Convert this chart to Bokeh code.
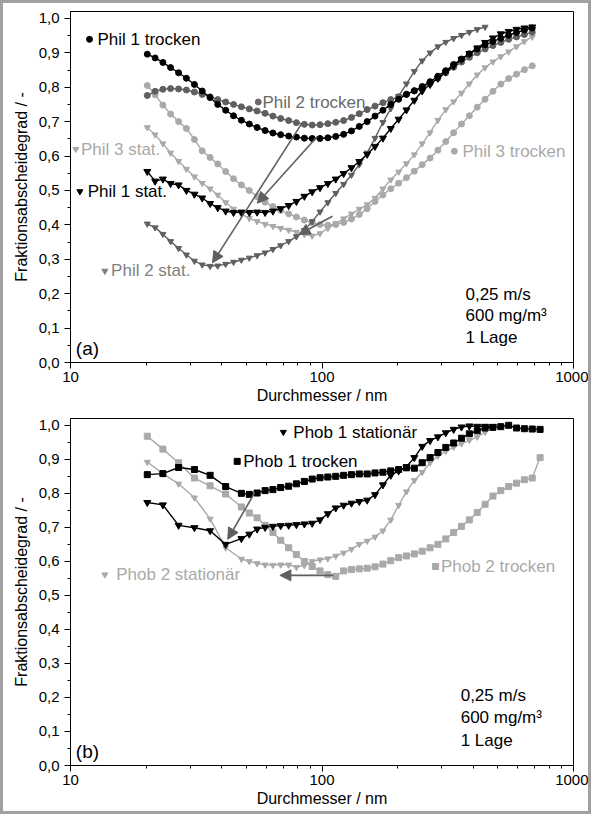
from bokeh.plotting import figure
from bokeh.layouts import column
from bokeh.models import FixedTicker, CustomJSTickFormatter, Arrow, NormalHead, ColumnDataSource
from bokeh.core.properties import value
from bokeh.embed import file_html
from bokeh.resources import INLINE

BLACK = "#000000"
DARK = "#5f5f5f"
LIGHT = "#a9a9a9"
FONT = "Liberation Sans"

# ---------------- data ----------------
x_ticks = [10, 100, 1000]
x_minor = [20, 30, 40, 50, 60, 70, 80, 90, 200, 300, 400, 500, 600, 700, 800, 900]
y_ticks = [0.0, 0.1, 0.2, 0.3, 0.4, 0.5, 0.6, 0.7, 0.8, 0.9, 1.0]
y_minor = [0.05, 0.15, 0.25, 0.35, 0.45, 0.55, 0.65, 0.75, 0.85, 0.95]

# particle diameters (nm), panel (a)
d_a = [20.2, 21.7, 23.3, 25.0, 26.9, 28.9, 31.1, 33.4, 35.9, 38.5,
       41.4, 44.5, 47.8, 51.4, 55.2, 59.4, 63.8, 68.5, 73.7, 79.1,
       85.1, 91.4, 98.2, 105.5, 113.4, 121.9, 131.0, 140.7, 151.2, 162.5,
       174.7, 187.7, 201.7, 216.7, 232.9, 250.3, 269.0, 289.0, 310.6, 333.8,
       358.7, 385.4, 414.2, 445.1, 478.3, 514.0, 552.3, 593.5, 637.8, 685.4]

phil1_trocken = [0.896, 0.885, 0.872, 0.857, 0.842, 0.826, 0.808, 0.789, 0.770, 0.750,
                 0.733, 0.717, 0.704, 0.693, 0.683, 0.674, 0.667, 0.662, 0.658, 0.655,
                 0.652, 0.651, 0.651, 0.653, 0.657, 0.663, 0.673, 0.686, 0.700, 0.716,
                 0.733, 0.750, 0.765, 0.779, 0.790, 0.802, 0.816, 0.832, 0.848, 0.866,
                 0.882, 0.897, 0.911, 0.923, 0.933, 0.942, 0.951, 0.959, 0.966, 0.972]
phil2_trocken = [0.776, 0.788, 0.794, 0.796, 0.795, 0.792, 0.786, 0.779, 0.772, 0.764,
                 0.757, 0.750, 0.743, 0.737, 0.731, 0.724, 0.716, 0.709, 0.703, 0.697,
                 0.692, 0.690, 0.691, 0.694, 0.698, 0.703, 0.712, 0.723, 0.735, 0.745,
                 0.755, 0.764, 0.772, 0.780, 0.789, 0.799, 0.812, 0.826, 0.842, 0.858,
                 0.873, 0.887, 0.900, 0.911, 0.921, 0.930, 0.939, 0.946, 0.953, 0.960]
phil3_trocken = [0.805, 0.778, 0.748, 0.722, 0.700, 0.680, 0.648, 0.615, 0.596, 0.577,
                 0.555, 0.534, 0.516, 0.500, 0.482, 0.466, 0.453, 0.442, 0.432, 0.423,
                 0.414, 0.406, 0.401, 0.399, 0.401, 0.407, 0.417, 0.430, 0.447, 0.468,
                 0.487, 0.505, 0.521, 0.537, 0.556, 0.575, 0.594, 0.617, 0.642, 0.668,
                 0.693, 0.717, 0.742, 0.765, 0.788, 0.809, 0.825, 0.838, 0.851, 0.862]
phil1_stat = [0.555, 0.527, 0.533, 0.520, 0.516, 0.500, 0.489, 0.478, 0.462, 0.450,
              0.440, 0.436, 0.437, 0.436, 0.437, 0.436, 0.440, 0.447, 0.456, 0.468,
              0.483, 0.496, 0.508, 0.520, 0.533, 0.549, 0.566, 0.584, 0.605, 0.628,
              0.652, 0.680, 0.707, 0.734, 0.762, 0.789, 0.808, 0.826, 0.844, 0.862,
              0.881, 0.898, 0.914, 0.930, 0.943, 0.955, 0.962, 0.968, 0.972, 0.975]
phil2_stat = [0.403, 0.392, 0.373, 0.352, 0.332, 0.313, 0.295, 0.284, 0.280, 0.281,
              0.286, 0.292, 0.298, 0.304, 0.311, 0.319, 0.329, 0.340, 0.352, 0.366,
              0.384, 0.410, 0.438, 0.465, 0.492, 0.518, 0.545, 0.575, 0.609, 0.652,
              0.698, 0.738, 0.774, 0.810, 0.846, 0.877, 0.900, 0.918, 0.931, 0.942,
              0.951, 0.960, 0.968, 0.975]
phil3_stat = [0.683, 0.662, 0.636, 0.609, 0.585, 0.562, 0.540, 0.521, 0.505, 0.487,
              0.465, 0.446, 0.431, 0.419, 0.410, 0.402, 0.396, 0.390, 0.385, 0.379,
              0.372, 0.368, 0.375, 0.390, 0.404, 0.418, 0.432, 0.446, 0.459, 0.478,
              0.505, 0.531, 0.554, 0.578, 0.604, 0.636, 0.668, 0.704, 0.735, 0.758,
              0.783, 0.810, 0.836, 0.857, 0.874, 0.889, 0.903, 0.918, 0.933, 0.946]

# particle diameters (nm), panel (b)
d_b = [20.2, 23.3, 26.9, 31.1, 35.9, 41.4, 47.8, 51.4, 55.2, 59.4,
       63.8, 68.5, 73.7, 79.1, 85.1, 91.4, 98.2, 105.5, 113.4, 121.9,
       131.0, 140.7, 151.2, 162.5, 174.7, 187.7, 201.7, 216.7, 232.9, 250.3,
       269.0, 289.0, 310.6, 333.8, 358.7, 385.4, 414.2, 445.1, 478.3, 514.0,
       552.3, 593.5, 637.8, 685.4, 736.5]

phob1_trocken = [0.855, 0.858, 0.876, 0.870, 0.853, 0.820, 0.800, 0.797, 0.801, 0.808,
                 0.811, 0.817, 0.821, 0.828, 0.835, 0.842, 0.846, 0.848, 0.850, 0.853,
                 0.855, 0.857, 0.857, 0.860, 0.862, 0.866, 0.870, 0.875, 0.874, 0.890,
                 0.905, 0.920, 0.935, 0.948, 0.962, 0.975, 0.984, 0.992, 0.994, 0.996,
                 1.000, 0.992, 0.990, 0.989, 0.988]
phob1_stat = [0.773, 0.766, 0.706, 0.699, 0.690, 0.650, 0.667, 0.680, 0.695, 0.700,
              0.703, 0.705, 0.706, 0.708, 0.710, 0.712, 0.722, 0.740, 0.757, 0.765,
              0.771, 0.776, 0.780, 0.796, 0.825, 0.853, 0.866, 0.878, 0.905, 0.938,
              0.955, 0.966, 0.978, 0.988, 0.995, 0.998, 0.997, 0.997, 0.996]
phob2_trocken = [0.968, 0.930, 0.890, 0.845, 0.822, 0.798, 0.760, 0.742, 0.728, 0.706,
                 0.685, 0.662, 0.640, 0.620, 0.600, 0.585, 0.572, 0.561, 0.556, 0.572,
                 0.576, 0.578, 0.580, 0.584, 0.592, 0.602, 0.611, 0.616, 0.622, 0.630,
                 0.640, 0.650, 0.666, 0.685, 0.703, 0.722, 0.744, 0.768, 0.792, 0.808,
                 0.820, 0.830, 0.840, 0.845, 0.905]
phob2_stat = [0.892, 0.858, 0.828, 0.787, 0.725, 0.640, 0.607, 0.600, 0.594, 0.590,
              0.589, 0.590, 0.590, 0.583, 0.588, 0.600, 0.605, 0.608, 0.616, 0.625,
              0.636, 0.650, 0.660, 0.672, 0.690, 0.722, 0.765, 0.805, 0.838, 0.862,
              0.890, 0.910, 0.924, 0.936, 0.946, 0.956, 0.966, 0.980, 0.994]

# labels panel (a): marker position, text start, text, color, marker
lab_a_text = ["Phil 1 trocken", "Phil 2 trocken", "Phil 3 stat.", "Phil 1 stat.", "Phil 2 stat.", "Phil 3 trocken"]
lab_a_mx = [11.9, 55.8, 10.5, 10.9, 13.7, 336]
lab_a_my = [0.939, 0.757, 0.620, 0.497, 0.266, 0.614]
lab_a_tx = [12.8, 58.0, 11.0, 11.7, 14.5, 362]
lab_a_color = [BLACK, "#6a6a6a", LIGHT, BLACK, "#7f7f7f", LIGHT]
lab_a_marker = ["circle", "circle", "inverted_triangle", "inverted_triangle", "inverted_triangle", "circle"]

lab_b_text = ["Phob 1 stationär", "Phob 1 trocken", "Phob 2 stationär", "Phob 2 trocken"]
lab_b_mx = [70.2, 46.0, 13.7, 283]
lab_b_my = [0.980, 0.894, 0.561, 0.585]
lab_b_tx = [76.9, 48.6, 15.2, 297]
lab_b_color = [BLACK, BLACK, LIGHT, LIGHT]
lab_b_marker = ["inverted_triangle", "square", "inverted_triangle", "square"]

info_lines = ["0,25 m/s", "600 mg/m³", "1 Lage"]
info_a_x = 372
info_a_y = [0.199, 0.136, 0.074]
info_b_x = 356
info_b_y = [0.205, 0.142, 0.074]

# arrows (start x, start y, end x, end y)
arrows_a = [(83, 0.694, 36.7, 0.290), (95.6, 0.656, 55.3, 0.463), (110, 0.425, 81, 0.372)]
arrows_b = [(54, 0.802, 42.2, 0.665), (111, 0.559, 68, 0.559)]


def make_fig(top, bottom, frame_h):
    p = figure(x_axis_type="log", x_range=(10, 1000), y_range=(0, 1.02),
               frame_width=503, frame_height=frame_h,
               min_border_left=67, min_border_right=15,
               min_border_top=top, min_border_bottom=bottom,
               output_backend="svg", toolbar_location=None,
               background_fill_color="white", border_fill_color="white")
    p.grid.visible = False
    p.outline_line_color = "black"
    p.outline_line_width = 1
    p.outline_line_alpha = 1
    for ax in (p.xaxis[0], p.yaxis[0]):
        ax.axis_line_color = "black"
        ax.major_tick_line_color = "black"
        ax.minor_tick_line_color = "black"
        ax.major_tick_in = 0
        ax.major_tick_out = 6
        ax.minor_tick_in = 0
        ax.minor_tick_out = 3
        ax.major_label_text_font = FONT
        ax.major_label_text_font_size = "15px"
        ax.major_label_text_color = "black"
        ax.major_label_standoff = 3
        ax.axis_label_text_font = FONT
        ax.axis_label_text_font_size = "16px"
        ax.axis_label_text_font_style = "normal"
        ax.axis_label_text_color = "black"
        ax.axis_label_standoff = 2
    p.yaxis.axis_label_standoff = 6
    p.yaxis.major_label_standoff = 5
    p.xaxis.ticker = FixedTicker(ticks=x_ticks, minor_ticks=x_minor)
    p.xaxis.formatter = CustomJSTickFormatter(code="return tick.toFixed(0);")
    p.yaxis.ticker = FixedTicker(ticks=y_ticks, minor_ticks=y_minor)
    p.yaxis.formatter = CustomJSTickFormatter(code="return tick.toFixed(1).replace('.', ',');")
    p.xaxis.axis_label = "Durchmesser / nm"
    p.yaxis.axis_label = "Fraktionsabscheidegrad / -"
    return p


def series(p, d, y, color, marker, size):
    n = min(len(d), len(y))
    xs, ys = d[:n], y[:n]
    p.line(xs, ys, line_color=color, line_width=1.4)
    p.scatter(xs, ys, marker=marker, size=size, fill_color=color, line_color=color)


def labels(p, mx, my, tx, texts, colors, markers):
    src = ColumnDataSource(dict(mx=mx, my=my, tx=tx, t=texts, c=colors, m=markers))
    p.scatter("mx", "my", marker="m", size=6, fill_color="c", line_color="c", source=src)
    p.text("tx", "my", text="t", text_color="c", text_font=value(FONT),
           text_font_size=value("17px"), text_baseline="middle", text_align="left", source=src)


def info(p, x, ys, tag):
    p.text([x] * len(ys), ys, text=info_lines, text_font=value(FONT), text_font_size=value("17px"),
           text_baseline="middle", text_align="left", text_color="black")
    p.text([10.5], [0.042], text=[tag], text_font=value(FONT), text_font_size=value("19px"),
           text_baseline="middle", text_align="left", text_color="black")


def arrows(p, lst):
    for (x0, y0, x1, y1) in lst:
        p.add_layout(Arrow(end=NormalHead(size=11, fill_color=DARK, line_color=DARK),
                           x_start=x0, y_start=y0, x_end=x1, y_end=y1,
                           line_color=DARK, line_width=1.6))


# panel (a)
p1 = make_fig(8, 46, 351)
series(p1, d_a, phil3_trocken, LIGHT, "circle", 6)
series(p1, d_a, phil3_stat, LIGHT, "inverted_triangle", 6)
series(p1, d_a, phil2_trocken, DARK, "circle", 6)
series(p1, d_a, phil2_stat, DARK, "inverted_triangle", 6)
series(p1, d_a, phil1_trocken, BLACK, "circle", 6)
series(p1, d_a, phil1_stat, BLACK, "inverted_triangle", 7)
arrows(p1, arrows_a)
labels(p1, lab_a_mx, lab_a_my, lab_a_tx, lab_a_text, lab_a_color, lab_a_marker)
info(p1, info_a_x, info_a_y, "(a)")

# panel (b)
p2 = make_fig(10, 46, 347)
series(p2, d_b, phob2_trocken, LIGHT, "square", 6)
series(p2, d_b, phob2_stat, LIGHT, "inverted_triangle", 6)
series(p2, d_b, phob1_trocken, BLACK, "square", 6)
series(p2, d_b, phob1_stat, BLACK, "inverted_triangle", 7)
arrows(p2, arrows_b)
labels(p2, lab_b_mx, lab_b_my, lab_b_tx, lab_b_text, lab_b_color, lab_b_marker)
info(p2, info_b_x, info_b_y, "(b)")

layout = column(p1, p2, styles={"border": "3px solid #a0a0a0", "background-color": "white"})
open("out.html", "w").write(file_html(layout, INLINE))
